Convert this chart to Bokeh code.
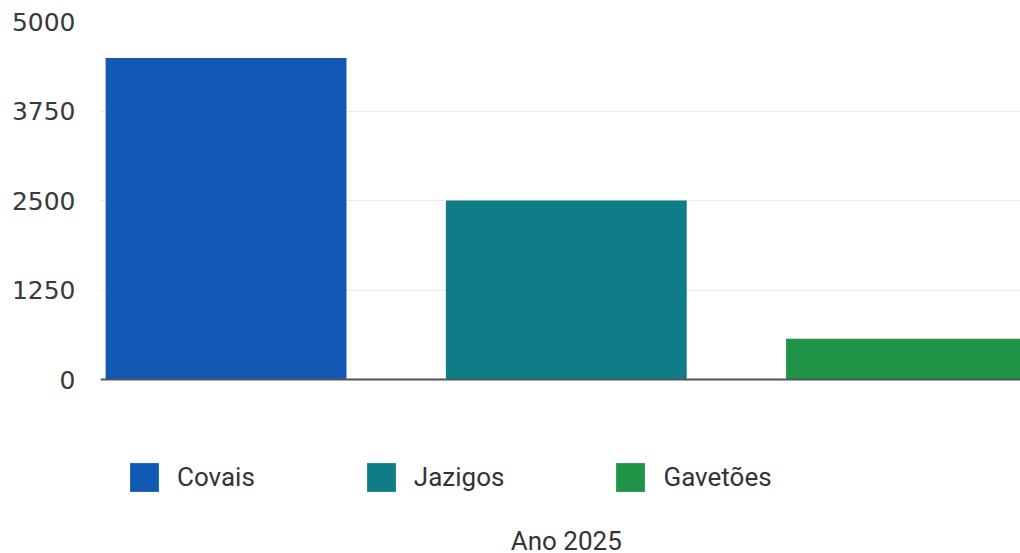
from bokeh.plotting import figure
from bokeh.models import (ColumnDataSource, Range1d, FixedTicker, Legend, LegendItem, Span, Label)
from bokeh.embed import file_html
from bokeh.resources import INLINE

categories = ["Covais", "Jazigos", "Gavetões"]
values = [4490, 2500, 570]
colors = ["#1259b3", "#0f7d87", "#1f9346"]
y_ticks = [0, 1250, 2500, 3750, 5000]
x_title = "Ano 2025"

src = ColumnDataSource(dict(
    x=list(range(len(categories))),
    top=values,
    color=colors,
    cat=categories,
))

# frame extends below zero so that the legend and title sit inside it
p = figure(
    output_backend="svg", toolbar_location=None,
    frame_width=920, frame_height=532,
    min_border_left=100, min_border_right=0, min_border_top=21, min_border_bottom=0,
    x_range=Range1d(-0.369, 2.335), y_range=Range1d(-2430, 5000),
    x_axis_location=None,
    background_fill_color="white", border_fill_color="white",
)
p.outline_line_color = None

r = p.vbar(x="x", top="top", width=0.708, bottom=0, color="color", line_color=None, source=src)

# baseline
p.add_layout(Span(location=0, dimension="width", line_color="#555555", line_width=2))

# y axis
p.yaxis.ticker = FixedTicker(ticks=y_ticks)
p.yaxis.axis_line_color = None
p.yaxis.major_tick_line_color = None
p.yaxis.minor_tick_line_color = None
p.yaxis.major_tick_out = 0
p.yaxis.major_tick_in = 0
p.yaxis.major_label_standoff = 25
p.yaxis.major_label_text_font = "DejaVu Sans"
p.yaxis.major_label_text_font_size = "25px"
p.yaxis.major_label_text_color = "#3a3a3a"

# grid
p.xgrid.grid_line_color = None
p.ygrid.ticker = FixedTicker(ticks=y_ticks)
p.ygrid.grid_line_color = "#ebebeb"
p.ygrid.grid_line_width = 1

# legend
legend = Legend(
    items=[LegendItem(label=c, renderers=[r], index=i) for i, c in enumerate(categories)],
    location=(26, 58),
    orientation="horizontal",
    padding=0, margin=0, spacing=108,
    border_line_color=None, background_fill_alpha=0,
    glyph_width=36, glyph_height=36, label_standoff=15,
    label_text_font="Roboto", label_text_font_size="26px",
    label_text_color="#333333", label_height=36,
)
p.add_layout(legend, "center")

# x title
p.add_layout(Label(x=1.0, y=-2262, text=x_title, text_align="center", text_baseline="alphabetic",
                   text_font="Roboto", text_font_size="26px", text_color="#333333"))

open("out.html", "w").write(file_html(p, INLINE))
